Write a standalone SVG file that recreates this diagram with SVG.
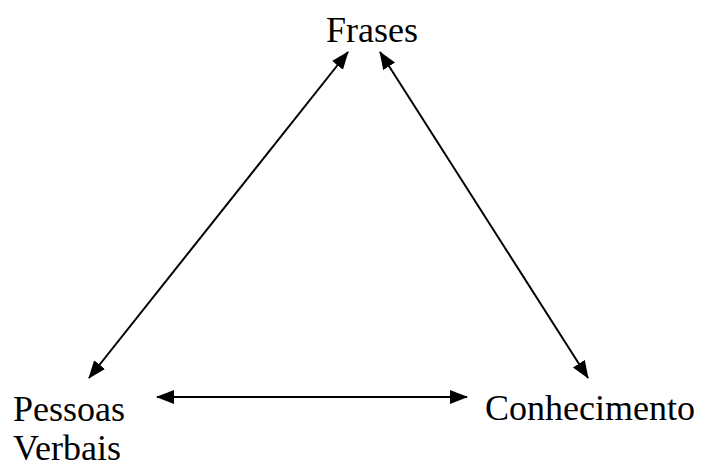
<svg xmlns="http://www.w3.org/2000/svg" width="705" height="465" viewBox="0 0 705 465">
<style>
.t{font-family:"Liberation Serif","Times New Roman",serif;font-size:36px;fill:#000}
.c{stroke:#000;stroke-width:2;fill:none;marker-start:url(#ah);marker-end:url(#ah)}
</style>
<defs>
<marker id="ah" viewBox="0 0 18 14" refX="17" refY="7" markerWidth="18" markerHeight="14" markerUnits="userSpaceOnUse" orient="auto-start-reverse">
<path d="M0,0 L18,7 L0,14 z" fill="#000"/>
</marker>
</defs>
<rect width="705" height="465" fill="#fff"/>
<g id="connectors">
<line class="c" x1="348" y1="52" x2="89" y2="378"/>
<line class="c" x1="380" y1="52" x2="588" y2="378"/>
<line class="c" x1="157" y1="397" x2="467" y2="397"/>
</g>
<g id="frases"><text class="t" x="326" y="42">Frases</text></g>
<g id="pessoas"><text class="t" x="13" y="421">Pessoas</text><text class="t" x="13" y="460">Verbais</text></g>
<g id="conhecimento"><text class="t" x="485" y="420">Conhecimento</text></g>
</svg>
